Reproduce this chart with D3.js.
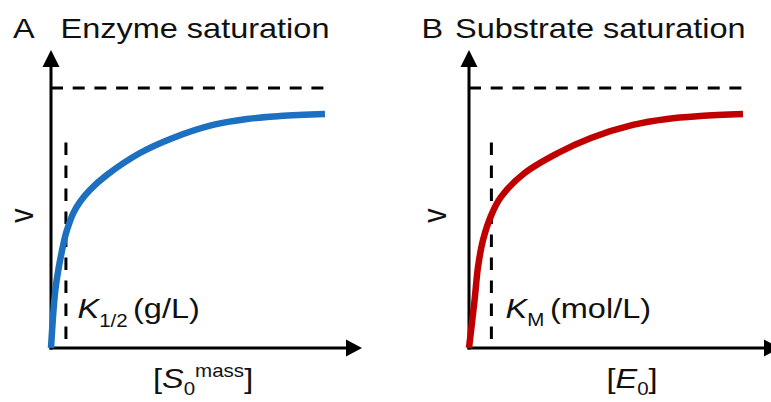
<!DOCTYPE html>
<html>
<head>
<meta charset="utf-8">
<script src="https://cdn.jsdelivr.net/npm/d3@7"></script>
<style>
  html, body { margin: 0; padding: 0; background: #fff; }
  svg { display: block; }
  text { font-family: "Liberation Sans", Arial, Helvetica, sans-serif; fill: #111; }
</style>
</head>
<body>
<svg id="chart" width="771" height="402"></svg>
<script>
// ---- data ----
const panelLetters = ["A", "B"];
const panelTitles = ["Enzyme saturation", "Substrate saturation"];
const curveColors = ["#1b6fbf", "#c00000"];
// x in arbitrary units (0..100 along the x axis), v as a fraction of Vmax
const xA = [0, 1.29, 2.35, 3.44, 4.50, 5.56, 7.17, 9.32, 12.5, 17.9, 28.6, 39.2, 52.1, 63.0, 73.6, 88.1];
const vA = [0, 0.212, 0.300, 0.369, 0.427, 0.469, 0.519, 0.562, 0.608, 0.665, 0.750, 0.808, 0.858, 0.881, 0.892, 0.900];
const xB = [0, 1.8, 2.9, 4.5, 7.2, 10.3, 17.9, 28.6, 39.2, 52.7, 63.7, 74.3, 88.1];
const vB = [0, 0.185, 0.312, 0.415, 0.512, 0.581, 0.673, 0.750, 0.808, 0.858, 0.881, 0.892, 0.900];
const kValues = [4.8, 7.2];          // position of K1/2 and KM on x
const vmax = 1;                       // saturation level
const vmaxLineEnd = 90.4;             // x where the dashed Vmax line ends
const kLineTop = 0.79;                // top of the K dashed line (fraction of Vmax)
const xAxisMax = 100, yAxisMax = 1.146;

// ---- layout ----
const svg = d3.select("#chart");
const sx = 1.14; // horizontal stretch of the reference's lettering
const fs = 28.5, fsSmall = 18;
const originsX = [51, 469];
const y0 = 348, yV = 88, axisLen = 311;

const defs = svg.append("defs");
defs.append("filter").attr("id", "soft")
  .attr("x", "-5%").attr("y", "-5%").attr("width", "110%").attr("height", "110%")
  .append("feGaussianBlur").attr("stdDeviation", 0.7);

const curves = [ {x: xA, v: vA}, {x: xB, v: vB} ];

function stretchedText(g, x, y) {
  return g.append("g").attr("transform", `translate(${x},${y}) scale(${sx},1)`).append("text");
}

panelLetters.forEach((letter, i) => {
  const ox = originsX[i];
  const x = d3.scaleLinear().domain([0, 100]).range([ox, ox + axisLen]);
  const y = d3.scaleLinear().domain([0, vmax]).range([y0, yV]);
  const g = svg.append("g");

  // dashed Vmax line
  g.append("line")
    .attr("x1", x(0)).attr("x2", x(vmaxLineEnd))
    .attr("y1", y(vmax)).attr("y2", y(vmax))
    .attr("stroke", "#000").attr("stroke-width", 3)
    .attr("stroke-dasharray", "12,9.7");

  // dashed K line
  g.append("line")
    .attr("x1", x(kValues[i])).attr("x2", x(kValues[i]))
    .attr("y1", y(kLineTop)).attr("y2", y(0))
    .attr("stroke", "#000").attr("stroke-width", 3)
    .attr("stroke-dasharray", "12.5,10.5");

  // axes
  const tipY = y(yAxisMax), tipX = x(xAxisMax);
  g.append("line").attr("x1", x(0)).attr("x2", x(0)).attr("y1", y(0) + 1.5).attr("y2", tipY + 14)
    .attr("stroke", "#000").attr("stroke-width", 3);
  g.append("line").attr("x1", x(0) - 1.5).attr("x2", tipX - 14).attr("y1", y(0)).attr("y2", y(0))
    .attr("stroke", "#000").attr("stroke-width", 3);
  g.append("path")
    .attr("d", `M${x(0)},${tipY} L${x(0) - 8.5},${tipY + 17} L${x(0) + 8.5},${tipY + 17} Z`)
    .attr("fill", "#000");
  g.append("path")
    .attr("d", `M${tipX},${y(0)} L${tipX - 16},${y(0) - 8.5} L${tipX - 16},${y(0) + 8.5} Z`)
    .attr("fill", "#000");

  // saturation curve
  const pts = curves[i].x.map((xv, j) => [xv, curves[i].v[j]]);
  const line = d3.line().x(d => x(d[0])).y(d => y(d[1])).curve(d3.curveCatmullRom.alpha(0.5));
  g.append("path").datum(pts).attr("d", line)
    .attr("fill", "none").attr("stroke", curveColors[i]).attr("stroke-width", 6.5)
    .attr("stroke-linejoin", "round").attr("filter", "url(#soft)");
});

// ---- titles ----
stretchedText(svg, 13, 38).attr("font-size", fs).text(panelLetters[0]);
stretchedText(svg, 60.5, 38).attr("font-size", fs).text(panelTitles[0]);
stretchedText(svg, 421.5, 38).attr("font-size", fs).text(panelLetters[1]);
stretchedText(svg, 455, 38).attr("font-size", fs).text(panelTitles[1]);

// ---- y labels (v) ----
[[23.5, 215.5], [436, 215.5]].forEach(([cx, cy]) => {
  svg.append("g").attr("transform", `translate(${cx},${cy}) scale(${sx},1) rotate(-90)`)
    .append("text").attr("font-size", fs).attr("text-anchor", "middle").attr("dy", "0.3em")
    .text("v");
});

// ---- K labels ----
{
  const t = stretchedText(svg, 77.5, 318).attr("font-size", fs);
  t.append("tspan").attr("font-style", "italic").text("K");
  t.append("tspan").attr("font-size", fsSmall).attr("dy", 8.5).text("1/2");
  stretchedText(svg, 133, 318).attr("font-size", fs).text("(g/L)");
}
{
  const t = stretchedText(svg, 505.5, 317.5).attr("font-size", fs);
  t.append("tspan").attr("font-style", "italic").text("K");
  t.append("tspan").attr("font-size", fsSmall).attr("dy", 8.5).text("M");
  stretchedText(svg, 550, 317.5).attr("font-size", fs).text("(mol/L)");
}

// ---- x labels ----
{
  const t = stretchedText(svg, 153, 388).attr("font-size", fs);
  t.append("tspan").text("[");
  t.append("tspan").attr("font-style", "italic").text("S");
  t.append("tspan").attr("font-size", fsSmall).attr("dy", 7).text("0");
  t.append("tspan").attr("font-size", fsSmall).attr("dy", -18).text("mass");
  t.append("tspan").attr("dy", 11).text("]");
}
{
  const t = stretchedText(svg, 606.5, 388).attr("font-size", fs);
  t.append("tspan").text("[");
  t.append("tspan").attr("font-style", "italic").text("E");
  t.append("tspan").attr("font-size", fsSmall).attr("dy", 7).text("0");
  t.append("tspan").attr("dy", -7).text("]");
}
</script>
</body>
</html>
